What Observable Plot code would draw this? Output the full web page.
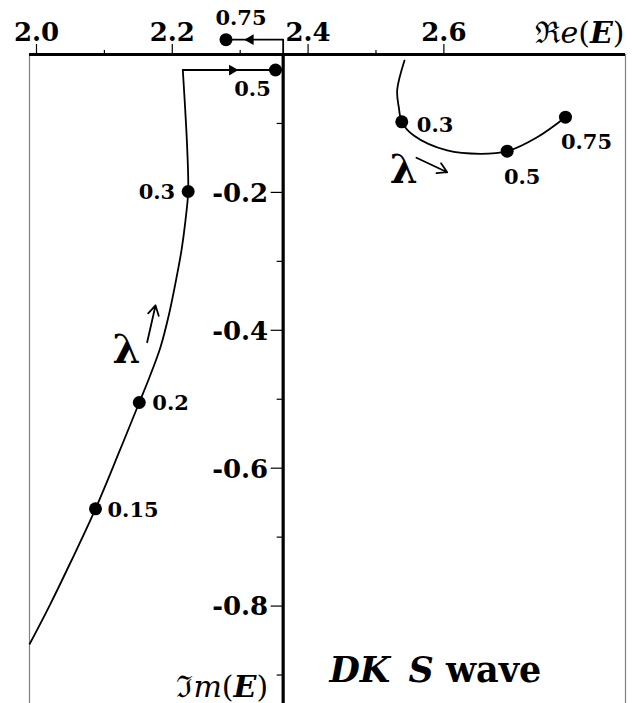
<!DOCTYPE html>
<html>
<head>
<meta charset="utf-8">
<script src="https://cdn.jsdelivr.net/npm/d3@7"></script>
<script src="https://cdn.jsdelivr.net/npm/@observablehq/plot@0.6"></script>
<style>
  html, body { margin: 0; padding: 0; background: white; }
  #chart svg { display: block; }
</style>
</head>
<body>
<div id="chart"></div>
<script>
// ---- data ----
// large-width branch (left), smooth part
const leftRe = [1.9901, 2.0206, 2.0515, 2.0869, 2.1215, 2.1514, 2.1657, 2.1826, 2.1951, 2.2054, 2.2135, 2.2194, 2.2234, 2.2221, 2.2191, 2.2155];
const leftIm = [-0.8547, -0.7967, -0.7339, -0.6589, -0.5772, -0.5047, -0.4699, -0.4245, -0.3771, -0.3278, -0.2843, -0.2408, -0.1987, -0.1392, -0.0812, -0.0225];
// left branch, straight jumps near the top
const jumpRe = [2.2155, 2.3520, 2.3633, 2.3633, 2.2791];
const jumpIm = [-0.0225, -0.0225, -0.0225, 0.0215, 0.0215];
// small-width branch (right)
const rightRe = [2.5420, 2.5312, 2.5336, 2.5380, 2.5557, 2.6049, 2.6539, 2.6932, 2.7374, 2.7791];
const rightIm = [-0.0087, -0.0522, -0.0764, -0.0976, -0.1175, -0.1392, -0.1440, -0.1402, -0.1199, -0.0909];
// marked lambda values
const leftDotRe = [2.0869, 2.1514, 2.2234, 2.3520, 2.2791];
const leftDotIm = [-0.6589, -0.5047, -0.1987, -0.0225, 0.0215];
const leftDotLambda = ["0.15", "0.2", "0.3", "0.5", "0.75"];
const rightDotRe = [2.5380, 2.6932, 2.7791];
const rightDotIm = [-0.0976, -0.1402, -0.0909];
const rightDotLambda = ["0.3", "0.5", "0.75"];
// axes
const xTicks = [2.0, 2.2, 2.4, 2.6];
const xTickLabels = ["2.0", "2.2", "2.4", "2.6"];
const xMinor = [2.1, 2.3, 2.5];
const yTicks = [-0.2, -0.4, -0.6, -0.8];
const yTickLabels = ["-0.2", "-0.4", "-0.6", "-0.8"];
const yMinor = [-0.1, -0.3, -0.5, -0.7, -0.9];
const yAxisAt = 2.3633;
const xDomain = [1.9897, 2.8675];
const yDomain = [-0.9413, 0];
// direction arrows on the jump segments
const jumpArrowRe = [2.2882, 2.3152];
const jumpArrowIm = [-0.0225, 0.0215];
const jumpArrowDir = [90, -90];
// lambda arrows
const lamRe = [2.1325, 2.5409];
const lamIm = [-0.4293, -0.1682];
const lamArrowX1 = [2.1630, 2.5596], lamArrowY1 = [-0.4173, -0.1498];
const lamArrowX2 = [2.1753, 2.6049], lamArrowY2 = [-0.3640, -0.1707];

// ---- layout ----
const width = 634, height = 703;
const ml = 29, mr = 9, mt = 54, mb = 0;
const pxX = (width - ml - mr) / (xDomain[1] - xDomain[0]);
const pxY = (height - mt - mb) / (yDomain[1] - yDomain[0]);

const zip = (a, b) => a.map((v, i) => ({x: v, y: b[i]}));
const leftData = zip(leftRe, leftIm);
const jumpData = zip(jumpRe, jumpIm);
const rightData = zip(rightRe, rightIm);
const leftDots = leftDotRe.map((v, i) => ({x: v, y: leftDotIm[i], t: leftDotLambda[i]}));
const rightDots = rightDotRe.map((v, i) => ({x: v, y: rightDotIm[i], t: rightDotLambda[i]}));

// label offsets (style)
const leftOff = {"0.15": [12, 1, "start"], "0.2": [13, 1, "start"], "0.3": [-13, 1, "end"], "0.5": [-23, 19, "middle"], "0.75": [15, -21, "middle"]};
const rightOff = {"0.3": [15, 3, "start"], "0.5": [15, 26, "middle"], "0.75": [21, 25, "middle"]};

const labelMarks = [];
for (const d of leftDots) {
  const [dx, dy, anchor] = leftOff[d.t];
  labelMarks.push(Plot.text([d], {x: "x", y: "y", text: "t", dx, dy, textAnchor: anchor, fontSize: 21, fontWeight: "bold"}));
}
for (const d of rightDots) {
  const [dx, dy, anchor] = rightOff[d.t];
  labelMarks.push(Plot.text([d], {x: "x", y: "y", text: "t", dx, dy, textAnchor: anchor, fontSize: 21, fontWeight: "bold"}));
}

const chart = Plot.plot({
  width, height,
  marginLeft: ml, marginRight: mr, marginTop: mt, marginBottom: mb,
  x: {domain: xDomain, axis: null},
  y: {domain: yDomain, axis: null},
  style: {fontFamily: "DejaVu Serif", background: "white", overflow: "visible", color: "black"},
  marks: [
    // frame sides
    Plot.ruleX([xDomain[0], xDomain[1]], {stroke: "#808080", strokeWidth: 1.2}),
    // top axis
    Plot.ruleY([0], {stroke: "black", strokeWidth: 3}),
    Plot.ruleX(xTicks, {y1: 0, y2: 10 / pxY, stroke: "black", strokeWidth: 1.2}),
    Plot.ruleX(xMinor, {y1: 0, y2: 4 / pxY, stroke: "black", strokeWidth: 1.2}),
    Plot.text(xTicks, {x: d => d, y: 0, text: (d, i) => xTickLabels[i], dy: -22, fontSize: 26, fontWeight: "bold", lineAnchor: "middle"}),
    // vertical axis
    Plot.ruleX([yAxisAt], {stroke: "black", strokeWidth: 3.2}),
    Plot.ruleY(yTicks, {x1: yAxisAt, x2: yAxisAt - 12 / pxX, stroke: "black", strokeWidth: 1.2}),
    Plot.ruleY(yMinor, {x1: yAxisAt, x2: yAxisAt - 6 / pxX, stroke: "black", strokeWidth: 1.2}),
    Plot.text(yTicks, {x: yAxisAt, y: d => d, text: (d, i) => yTickLabels[i], dx: -15, dy: 1, textAnchor: "end", fontSize: 26, fontWeight: "bold"}),
    // axis titles
    Plot.text(["ℜe(E)"], {x: xDomain[1], y: 0, textAnchor: "end", dx: -1, dy: -21, fontSize: 30}),
    Plot.text(["ℑm(E)"], {x: yAxisAt, y: -0.9297, textAnchor: "end", dx: -15, dy: -8, fontSize: 30}),
    Plot.text(["DK S wave"], {x: 2.4315, y: -0.905, textAnchor: "start", dy: -8, fontSize: 35}),
    // curves
    Plot.line(leftData, {x: "x", y: "y", curve: "catmull-rom", stroke: "black", strokeWidth: 1.8}),
    Plot.line(jumpData, {x: "x", y: "y", stroke: "black", strokeWidth: 1.8}),
    Plot.line(rightData, {x: "x", y: "y", curve: "catmull-rom", stroke: "black", strokeWidth: 1.8}),
    Plot.dot(jumpArrowRe.map((v, i) => ({x: v, y: jumpArrowIm[i], r: jumpArrowDir[i]})), {x: "x", y: "y", rotate: "r", symbol: "triangle", r: 4, fill: "black", stroke: "none"}),
    // dots
    Plot.dot(leftDots, {x: "x", y: "y", r: 6.5, fill: "black", stroke: "none"}),
    Plot.dot(rightDots, {x: "x", y: "y", r: 6.5, fill: "black", stroke: "none"}),
    ...labelMarks,
    // lambda annotations
    Plot.text(lamRe.map((v, i) => ({x: v, y: lamIm[i]})), {x: "x", y: "y", text: () => "λ", fontSize: 40, fontWeight: "bold"}),
    Plot.arrow(lamArrowX1.map((v, i) => ({x1: v, y1: lamArrowY1[i], x2: lamArrowX2[i], y2: lamArrowY2[i]})), {x1: "x1", y1: "y1", x2: "x2", y2: "y2", stroke: "black", strokeWidth: 1.8, headLength: 9})
  ]
});

// rich text for axis titles
d3.select(chart).selectAll("text").each(function () {
  const s = d3.select(this);
  const t = this.textContent;
  if (t === "ℜe(E)" || t === "ℑm(E)") {
    s.text(null);
    s.append("tspan").text(t[0]).attr("font-family", "DejaVu Serif");
    s.append("tspan").text(t[1]).attr("font-style", "italic");
    s.append("tspan").text("(");
    s.append("tspan").text("E").attr("font-style", "italic").attr("font-weight", "bold");
    s.append("tspan").text(")");
  } else if (t === "DK S wave") {
    s.text(null);
    s.append("tspan").text("DK").attr("font-style", "italic").attr("font-weight", "bold");
    s.append("tspan").text(" S").attr("font-style", "italic").attr("font-weight", "bold").attr("dx", 6);
    s.append("tspan").text(" wave").attr("font-weight", "bold");
  }
});

document.getElementById("chart").appendChild(chart);
</script>
</body>
</html>
